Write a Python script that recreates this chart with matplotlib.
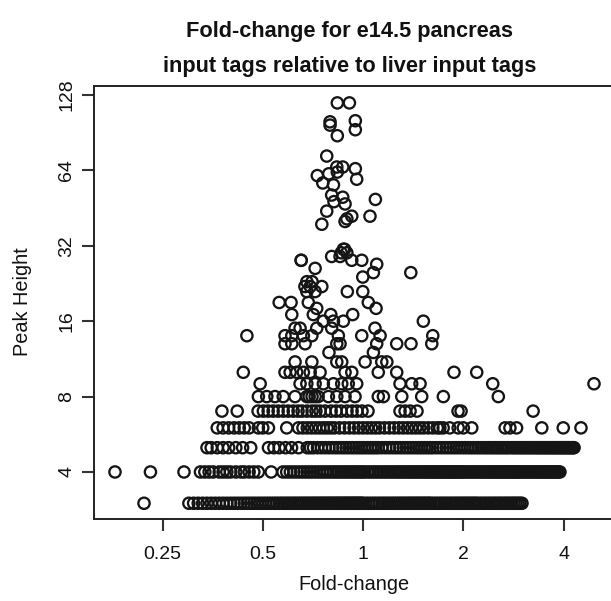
import matplotlib
matplotlib.use("Agg")
import matplotlib.pyplot as plt

# ---------------- data ----------------
x_ticks = [0.25, 0.5, 1, 2, 4]
x_tick_labels = ["0.25", "0.5", "1", "2", "4"]
y_ticks = [4, 8, 16, 32, 64, 128]
y_tick_labels = ["4", "8", "16", "32", "64", "128"]

# fold-change values of peaks with height 3
fc_h3 = [0.22,
         0.30, 0.31, 0.32, 0.33, 0.34, 0.35, 0.36, 0.37, 0.38, 0.39, 0.40,
         0.41, 0.42, 0.43, 0.44, 0.45, 0.46, 0.47, 0.48, 0.49, 0.50, 0.51,
         0.52, 0.53, 0.54, 0.55, 0.56, 0.57, 0.58, 0.59, 0.60, 0.61, 0.62,
         0.63, 0.64, 0.65, 0.66, 0.67, 0.68, 0.69, 0.70, 0.71, 0.72, 0.73,
         0.74, 0.75, 0.76, 0.77, 0.78, 0.79, 0.80, 0.81, 0.82, 0.83, 0.84,
         0.85, 0.86, 0.87, 0.88, 0.89, 0.90, 0.91, 0.92, 0.93, 0.94, 0.95,
         0.96, 0.97, 0.98, 0.99, 1.00,
         1.02, 1.04, 1.06, 1.08, 1.10, 1.12, 1.14, 1.16, 1.18, 1.20, 1.22,
         1.24, 1.26, 1.28, 1.30, 1.32, 1.34, 1.36, 1.38, 1.40, 1.42, 1.44,
         1.46, 1.48, 1.50, 1.52, 1.54, 1.56, 1.58, 1.60,
         1.63, 1.66, 1.69, 1.72, 1.75, 1.78, 1.81, 1.84, 1.87, 1.90, 1.93,
         1.96, 1.99, 2.02, 2.05, 2.08, 2.11, 2.14, 2.17, 2.20, 2.24, 2.28,
         2.32, 2.36, 2.40, 2.44, 2.48, 2.52, 2.56, 2.60, 2.64, 2.68, 2.72,
         2.76, 2.80, 2.84, 2.88, 2.92, 2.96, 3.00]

# height 4
fc_h4 = [0.18, 0.23, 0.29,
         0.325, 0.335, 0.345, 0.355, 0.37, 0.38, 0.39, 0.40, 0.415, 0.43,
         0.44, 0.455, 0.47, 0.485,
         0.53,
         0.575, 0.59, 0.605, 0.62, 0.635, 0.65, 0.665, 0.68, 0.695, 0.71,
         0.725, 0.74, 0.755, 0.77, 0.785, 0.80, 0.815, 0.83, 0.845, 0.86,
         0.875, 0.89, 0.905, 0.92, 0.935, 0.95, 0.965, 0.98, 0.995,
         1.01, 1.03, 1.05, 1.07, 1.09, 1.11, 1.13, 1.15, 1.17, 1.19, 1.21,
         1.23, 1.25, 1.27, 1.29, 1.31, 1.33, 1.35, 1.37, 1.39, 1.41, 1.43,
         1.45, 1.47, 1.49, 1.51, 1.53, 1.55, 1.57, 1.59, 1.61, 1.63, 1.65,
         1.67, 1.69, 1.71, 1.73, 1.75, 1.77, 1.79, 1.81, 1.83, 1.85, 1.87,
         1.89, 1.91, 1.93, 1.95, 1.97, 1.99,
         2.02, 2.05, 2.08, 2.11, 2.14, 2.17, 2.20, 2.23, 2.26, 2.29, 2.32,
         2.35, 2.38, 2.41, 2.44, 2.47, 2.50, 2.53, 2.56, 2.59, 2.62, 2.65,
         2.68, 2.71, 2.74, 2.77, 2.80, 2.83, 2.86, 2.89, 2.92, 2.95, 2.98,
         3.02, 3.06, 3.10, 3.14, 3.18, 3.22, 3.26, 3.30, 3.34, 3.38, 3.42,
         3.46, 3.50, 3.54, 3.58, 3.62, 3.66, 3.70, 3.74, 3.78, 3.82, 3.86,
         3.90]

# height 5
fc_h5 = [0.34, 0.35, 0.365, 0.38, 0.395, 0.415, 0.435, 0.46,
         0.52, 0.54, 0.56, 0.585, 0.61, 0.64,
         0.68, 0.695, 0.71, 0.73, 0.75, 0.77, 0.79, 0.81, 0.83,
         0.85, 0.87, 0.89, 0.91, 0.93, 0.95, 0.97, 0.99,
         1.01, 1.03, 1.05, 1.07, 1.09, 1.11, 1.14, 1.17, 1.20, 1.23, 1.26,
         1.29, 1.32, 1.35, 1.38, 1.41, 1.44, 1.47, 1.50, 1.53, 1.56, 1.59,
         1.62, 1.66, 1.70, 1.74, 1.78, 1.82, 1.86, 1.90, 1.94, 1.98, 2.02,
         2.06, 2.10, 2.14, 2.18, 2.22, 2.26, 2.30, 2.34, 2.38, 2.42, 2.46,
         2.50, 2.54, 2.58, 2.62, 2.66, 2.70, 2.74, 2.79,
         2.83, 2.87, 2.91, 2.95, 2.99, 3.03, 3.07, 3.11, 3.15, 3.19, 3.23,
         3.27, 3.31, 3.35, 3.39, 3.43, 3.47, 3.51, 3.55, 3.59, 3.63, 3.67,
         3.71, 3.75, 3.79, 3.83, 3.87, 3.91, 3.95, 3.99, 4.03, 4.07, 4.11,
         4.15, 4.19, 4.23, 4.27, 4.30]

# height 6
fc_h6 = [0.365, 0.38, 0.395, 0.41, 0.425, 0.44, 0.455, 0.485, 0.50, 0.52,
         0.59,
         0.64, 0.66, 0.68, 0.70, 0.72, 0.74, 0.76, 0.78, 0.80, 0.82, 0.85,
         0.88, 0.91, 0.94, 0.97, 1.00, 1.03, 1.06, 1.09, 1.12, 1.16, 1.20,
         1.24, 1.28, 1.32, 1.36, 1.40, 1.44, 1.48, 1.52, 1.57, 1.62, 1.67,
         1.70, 1.74, 1.82, 1.93, 2.00, 2.12,
         2.67, 2.76, 2.89, 3.44, 3.99, 4.51]

# height 7
fc_h7 = [0.377, 0.419, 0.484, 0.502, 0.519, 0.537, 0.556, 0.576, 0.596,
         0.617, 0.638, 0.656, 0.679, 0.703, 0.722, 0.743, 0.769, 0.802,
         0.830, 0.859, 0.895, 0.927, 0.959, 0.993, 1.035, 1.291, 1.337,
         1.384, 1.452, 1.928, 1.969, 3.24]

# height 8
fc_h8 = [0.485, 0.514, 0.544, 0.576, 0.625, 0.678, 0.689, 0.703, 0.718,
         0.733, 0.787, 0.834, 0.883, 0.946, 1.111, 1.151, 1.307, 1.500,
         1.742, 2.547]

# height 9
fc_h9 = [0.491, 0.647, 0.678, 0.718, 0.760, 0.815, 0.863, 0.903, 0.957,
         1.291, 1.400, 1.483, 2.451, 4.935]

# height 10
fc_h10 = [0.437, 0.583, 0.604, 0.632, 0.662, 0.694, 0.743, 0.883, 0.925,
          1.111, 1.262, 1.875, 2.194]

# scattered peaks with height >= 11
sparse_height = [11, 11, 11, 11, 11, 11, 11,
                 12, 12,
                 13, 13, 13, 13, 13, 13, 13, 13, 13,
                 14, 14, 14, 14, 14, 14, 14, 14, 14,
                 15, 15, 15, 15, 15,
                 16, 16, 16, 16,
                 17, 17, 17, 17,
                 18, 18,
                 19, 19, 19, 19,
                 21, 21, 21, 21,
                 22, 22, 22,
                 23, 23,
                 24,
                 25, 25,
                 26,
                 27,
                 28, 28, 28, 28,
                 29, 29,
                 30, 30,
                 31, 31,
                 39, 40, 41, 42, 42, 44, 47, 48, 49, 50, 51, 56, 57, 59,
                 61, 62, 63, 65, 66, 66, 73, 88, 93, 97, 100, 101, 119, 119]
sparse_fc = [0.625, 0.702, 0.834, 0.863, 1.014, 1.138, 1.179,
             1.074, 0.79,
             0.583, 0.611, 0.670, 0.834, 0.853, 1.099, 1.262, 1.393, 1.608,
             0.448, 0.583, 0.611, 0.662, 0.702, 0.843, 0.991, 1.125, 1.619,
             0.625, 0.647, 0.726, 0.805, 1.086,
             0.760, 0.815, 0.873, 1.517,
             0.611, 0.709, 0.800, 0.931,
             0.726, 1.094,
             0.560, 0.608, 0.685, 1.037,
             0.678, 0.718, 0.897, 0.998,
             0.669, 0.694, 0.752,
             0.678, 0.703,
             0.998,
             1.074, 1.391,
             0.718,
             1.099,
             0.652, 0.652, 0.925, 0.991,
             0.805, 0.853,
             0.894, 0.860,
             0.873, 0.880,
             0.752, 0.883, 0.894, 0.925, 1.049, 0.778, 0.883, 0.818, 1.089,
             0.869, 0.805, 0.815, 0.757, 0.957,
             0.729, 0.789, 0.837, 0.948, 0.834, 0.869, 0.778, 0.837, 0.948,
             0.796, 0.796, 0.948, 0.837, 0.910]

title_lines = ["Fold-change for e14.5 pancreas",
               "input tags relative to liver input tags"]
x_label = "Fold-change"
y_label = "Peak Height"

# ---------------- figure ----------------
plt.rcParams['font.family'] = ['Liberation Sans', 'DejaVu Sans']

W, H = 611, 601
fig = plt.figure(figsize=(W / 100, H / 100), dpi=100)
L, R, T, B = 94, 613, 86, 519
ax = fig.add_axes([L / W, 1 - B / H, (R - L) / W, (B - T) / H])
ax.set_xscale('log', base=2)
ax.set_yscale('log', base=2)

rows = [(3, fc_h3), (4, fc_h4), (5, fc_h5), (6, fc_h6), (7, fc_h7),
        (8, fc_h8), (9, fc_h9), (10, fc_h10)]
xs, ys = [], []
for h, vals in rows:
    xs += vals
    ys += [h] * len(vals)
xs += sparse_fc
ys += sparse_height

ax.scatter(xs, ys, s=66, facecolors='none', edgecolors='#151515',
           linewidths=1.65, zorder=3)

ax.set_xlim(0.1557, 5.628)
ax.set_ylim(2.596, 139.0)
ax.minorticks_off()
ax.set_xticks(x_ticks, labels=x_tick_labels)
ax.set_yticks(y_ticks, labels=y_tick_labels, rotation=90, va='center')
ax.minorticks_off()
ax.tick_params(axis='both', direction='out', length=8.5, width=1.5,
               color='#333333', labelsize=14, labelcolor='#111111')
ax.tick_params(axis='x', pad=11)
ax.tick_params(axis='y', pad=5)
for sp in ax.spines.values():
    sp.set_linewidth(1.4)
    sp.set_color('#222222')

fig.text(354 / W, 1 - 585 / H, x_label, ha='center', va='center',
         fontsize=14.3, color='#111111')
fig.text(22.5 / W, 1 - 302 / H, y_label, ha='center', va='center',
         rotation=90, fontsize=14.3, color='#111111')
fig.text(350 / W, 1 - 37 / H, title_lines[0], ha='center', va='baseline',
         fontsize=15.7, fontweight='bold', color='#111111')
fig.text(350 / W, 1 - 72 / H, title_lines[1], ha='center', va='baseline',
         fontsize=15.7, fontweight='bold', color='#111111')

fig.savefig("out.png", dpi=100)
